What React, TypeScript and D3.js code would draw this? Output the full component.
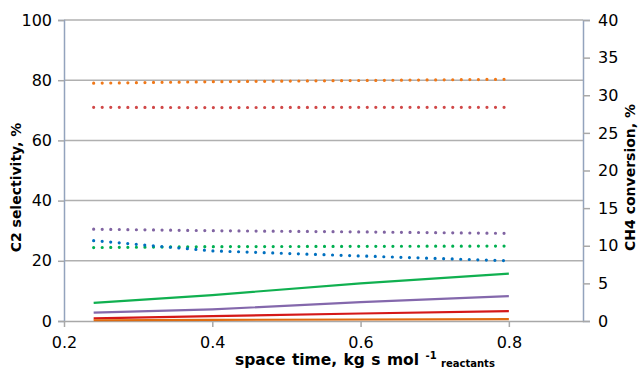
import React, { useEffect, useRef } from "react";
import * as d3 from "d3";

// space time, kg s / mol reactants
const spaceTime = [0.24, 0.4, 0.6, 0.8];

// C2 selectivity, % (dotted, left axis)
const selOrange = [79.0, 79.5, 79.9, 80.3];
const selRed = [71.0, 70.9, 71.0, 71.0];
const selPurple = [30.5, 30.0, 29.6, 29.1];
const selBlue = [26.7, 23.3, 21.6, 20.0];
const selGreen = [24.4, 24.7, 24.8, 24.9];

// CH4 conversion, % (solid, right axis)
const convGreen = [2.4, 3.45, 5.0, 6.3];
const convPurple = [1.1, 1.55, 2.5, 3.3];
const convRed = [0.36, 0.65, 1.0, 1.3];
const convOrange = [0.1, 0.15, 0.2, 0.25];

const xTicks = [0.2, 0.4, 0.6, 0.8];
const leftTicks = [0, 20, 40, 60, 80, 100];
const rightTicks = [0, 5, 10, 15, 20, 25, 30, 35, 40];

const dotted = [
  { values: selOrange, color: "#F07818" },
  { values: selRed, color: "#D04848" },
  { values: selPurple, color: "#8064A2" },
  { values: selGreen, color: "#00B050" },
  { values: selBlue, color: "#0070C0" },
];

const solid = [
  { values: convGreen, color: "#10B050" },
  { values: convPurple, color: "#8468AC" },
  { values: convRed, color: "#D41818" },
  { values: convOrange, color: "#E06C10" },
];

const W = 639;
const H = 373;
const margin = { left: 64, right: 56, top: 20, bottom: 52 };
const font = "'DejaVu Sans', Verdana, sans-serif";

function App() {
  const svgRef = useRef<SVGSVGElement>(null);

  useEffect(() => {
    document.body.style.margin = "0";
    const svg = d3.select(svgRef.current);
    svg.selectAll("*").remove();

    const x0 = margin.left;
    const x1 = W - margin.right;
    const y0 = H - margin.bottom;
    const y1 = margin.top;

    const xScale = d3.scaleLinear().domain([0.2, 0.9]).range([x0, x1]);
    const yLeft = d3.scaleLinear().domain([0, 100]).range([y0, y1]);
    const yRight = d3.scaleLinear().domain([0, 40]).range([y0, y1]);

    // gridlines
    svg.append("g")
      .selectAll("line")
      .data(leftTicks.filter(d => d > 0))
      .join("line")
      .attr("x1", x0).attr("x2", x1)
      .attr("y1", d => yLeft(d)).attr("y2", d => yLeft(d))
      .attr("stroke", "#b0b0b0").attr("stroke-width", 1.5);

    // left axis
    const gl = svg.append("g").attr("transform", `translate(${x0},0)`)
      .call(d3.axisLeft(yLeft).tickValues(leftTicks).tickSize(6).tickPadding(6));
    gl.select(".domain").attr("stroke", "#93a3bd").attr("stroke-width", 1.5);
    gl.selectAll(".tick line").attr("stroke", "#a8a8a8").attr("stroke-width", 1.5);
    gl.selectAll("text").attr("font-family", font).attr("font-size", 16).attr("fill", "#000");

    // right axis
    const gr = svg.append("g").attr("transform", `translate(${x1},0)`)
      .call(d3.axisRight(yRight).tickValues(rightTicks).tickSize(7).tickPadding(8));
    gr.select(".domain").attr("stroke", "#93a3bd").attr("stroke-width", 1.5);
    gr.selectAll(".tick line").attr("stroke", "#a8a8a8").attr("stroke-width", 1.5);
    gr.selectAll("text").attr("font-family", font).attr("font-size", 16).attr("fill", "#000");

    // bottom axis
    const gb = svg.append("g").attr("transform", `translate(0,${y0})`)
      .call(d3.axisBottom(xScale).tickValues(xTicks).tickFormat(d3.format(".1f")).tickSize(6).tickSizeOuter(0).tickPadding(10));
    gb.select(".domain").attr("stroke", "#a8a8a8").attr("stroke-width", 1.5);
    gb.selectAll(".tick line").attr("stroke", "#a8a8a8").attr("stroke-width", 1.5);
    gb.selectAll("text").attr("font-family", font).attr("font-size", 16).attr("fill", "#000");

    // solid conversion lines
    const lineRight = d3.line<number>()
      .x((_, i) => xScale(spaceTime[i]))
      .y(d => yRight(d));
    svg.append("g")
      .selectAll("path")
      .data(solid)
      .join("path")
      .attr("d", s => lineRight(s.values))
      .attr("fill", "none")
      .attr("stroke", s => s.color)
      .attr("stroke-width", 2.2);

    // dotted selectivity lines
    const lineLeft = d3.line<number>()
      .x((_, i) => xScale(spaceTime[i]))
      .y(d => yLeft(d));
    svg.append("g")
      .selectAll("path")
      .data(dotted)
      .join("path")
      .attr("d", s => lineLeft(s.values))
      .attr("fill", "none")
      .attr("stroke", s => s.color)
      .attr("stroke-width", 3.2)
      .attr("stroke-linecap", "round")
      .attr("stroke-dasharray", "0 8.55");

    // axis titles
    svg.append("text")
      .attr("transform", `translate(21,${(y0 + y1) / 2 + 17}) rotate(-90)`)
      .attr("text-anchor", "middle")
      .attr("font-family", font).attr("font-weight", "bold").attr("font-size", 14)
      .text("C2 selectivity, %");

    svg.append("text")
      .attr("transform", `translate(635,${(y0 + y1) / 2 + 7}) rotate(-90)`)
      .attr("text-anchor", "middle")
      .attr("font-family", font).attr("font-weight", "bold").attr("font-size", 14)
      .text("CH4 conversion, %");

    const xt = svg.append("text")
      .attr("x", 235).attr("y", 365)
      .attr("font-family", font).attr("font-weight", "bold").attr("font-size", 15.5)
      .attr("word-spacing", 1);
    xt.append("tspan").text("space time, kg s mol ");
    xt.append("tspan").attr("font-size", 10).attr("dy", -6).text("-1 ");
    xt.append("tspan").attr("font-size", 10).attr("dy", 8).text("reactants");
  }, []);

  return (
    <svg ref={svgRef} width={W} height={H} style={{ display: "block", background: "#fff" }} />
  );
}

export default App;
